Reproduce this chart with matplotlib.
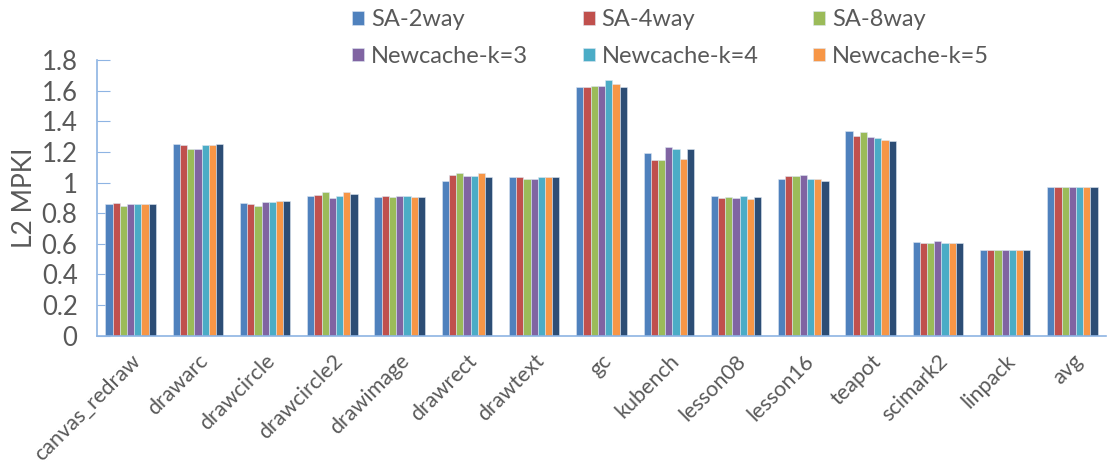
import numpy as np
import matplotlib.pyplot as plt

plt.rcParams["font.family"] = ["Lato", "DejaVu Sans"]

benchmarks = ["canvas_redraw", "drawarc", "drawcircle", "drawcircle2", "drawimage",
              "drawrect", "drawtext", "gc", "kubench", "lesson08", "lesson16",
              "teapot", "scimark2", "linpack", "avg"]

sa_2way = [0.860, 1.253, 0.867, 0.915, 0.906, 1.011, 1.033, 1.624, 1.190, 0.911, 1.022, 1.338, 0.610, 0.562, 0.970]
sa_4way = [0.865, 1.248, 0.861, 0.920, 0.915, 1.048, 1.033, 1.624, 1.148, 0.900, 1.042, 1.303, 0.606, 0.558, 0.970]
sa_8way = [0.845, 1.218, 0.850, 0.937, 0.906, 1.059, 1.026, 1.630, 1.148, 0.906, 1.042, 1.329, 0.606, 0.558, 0.970]
nc_k3 = [0.860, 1.222, 0.872, 0.900, 0.911, 1.042, 1.022, 1.630, 1.231, 0.900, 1.048, 1.297, 0.617, 0.562, 0.974]
nc_k4 = [0.860, 1.248, 0.872, 0.915, 0.911, 1.042, 1.033, 1.667, 1.222, 0.911, 1.026, 1.290, 0.606, 0.562, 0.974]
nc_k5 = [0.860, 1.248, 0.878, 0.937, 0.906, 1.059, 1.033, 1.645, 1.155, 0.893, 1.026, 1.279, 0.606, 0.558, 0.970]
nc_k6 = [0.860, 1.253, 0.878, 0.926, 0.906, 1.037, 1.033, 1.624, 1.218, 0.906, 1.011, 1.271, 0.606, 0.562, 0.970]

series = [
    ("SA-2way", sa_2way, "#4F81BD"),
    ("SA-4way", sa_4way, "#C0504D"),
    ("SA-8way", sa_8way, "#9BBB59"),
    ("Newcache-k=3", nc_k3, "#8064A2"),
    ("Newcache-k=4", nc_k4, "#4BACC6"),
    ("Newcache-k=5", nc_k5, "#F79646"),
    ("_nolegend_", nc_k6, "#2C4D75"),
]

text_col = "#595959"
axis_col = "#8EB4E3"

fig = plt.figure(figsize=(11.1, 4.68), dpi=100)
ax = fig.add_axes([0.0874, 0.2827, 0.909, 0.5891])

x = np.arange(len(benchmarks))
n = len(series)
group_w = 0.75
bw = group_w / n
handles = {}
for i, (name, vals, col) in enumerate(series):
    offs = -group_w / 2 + bw * (i + 0.5)
    b = ax.bar(x + offs, vals, bw, color=col, edgecolor="#DCE6F2",
               linewidth=0.4, label=name, zorder=2)
    handles[name] = b

ax.set_xlim(-0.5, len(benchmarks) - 0.5)
ax.set_ylim(0, 1.8)
ax.set_yticks(np.arange(0, 1.81, 0.2))
ax.set_yticklabels(["0", "0.2", "0.4", "0.6", "0.8", "1", "1.2", "1.4", "1.6", "1.8"])
ax.tick_params(axis="y", direction="in", length=9, color=axis_col,
               labelsize=18.5, labelcolor=text_col, pad=14)
ax.set_xticks(x)
ax.set_xticklabels(benchmarks, rotation=45, ha="right", va="top",
                   rotation_mode="anchor")
ax.tick_params(axis="x", length=0, labelsize=15.5, labelcolor=text_col, pad=11)

for side in ("top", "right"):
    ax.spines[side].set_visible(False)
for side in ("left", "bottom"):
    ax.spines[side].set_color(axis_col)
    ax.spines[side].set_linewidth(1.2)

ax.set_ylabel("L2 MPKI", fontsize=19, color=text_col, labelpad=3)

order = ["SA-2way", "Newcache-k=3", "SA-4way", "Newcache-k=4", "SA-8way", "Newcache-k=5"]
ax.legend([handles[k] for k in order], order, ncol=3, frameon=False,
          fontsize=17, labelcolor=text_col, handlelength=0.5, handleheight=0.5,
          handletextpad=0.3, columnspacing=2.3, labelspacing=0.65,
          loc="upper left", bbox_to_anchor=(343 / 1110, 1.0),
          bbox_transform=fig.transFigure, borderaxespad=0.0)

fig.savefig("out.png", dpi=100)
